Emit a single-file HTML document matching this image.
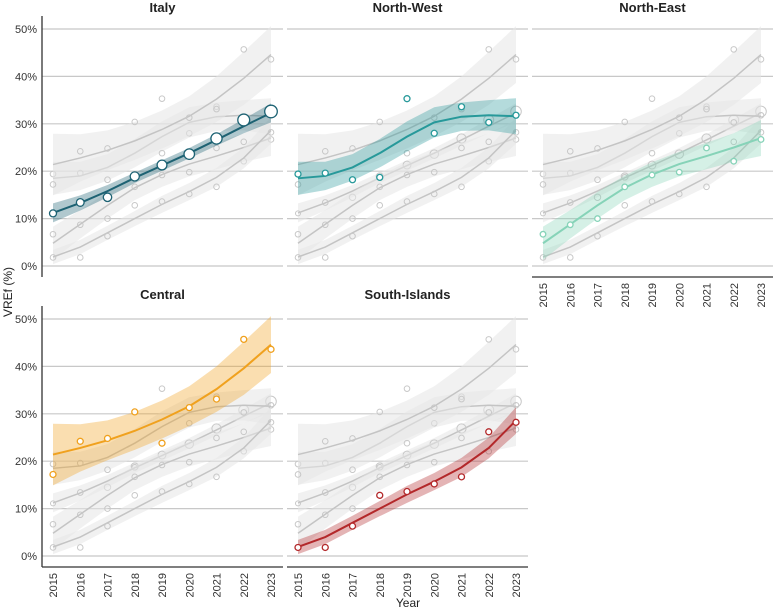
<!DOCTYPE html>
<html><head><meta charset="utf-8"><style>
body{margin:0;background:#fff;font-family:"Liberation Sans",sans-serif}
svg text{font-family:"Liberation Sans",sans-serif}
</style></head><body>
<svg id="c" width="774" height="609" xmlns="http://www.w3.org/2000/svg"></svg>
<script>
const years=[2015,2016,2017,2018,2019,2020,2021,2022,2023];
const regions=["Italy","North-West","North-East","Central","South-Islands"];
const colors=["#1d6273","#27999a","#86d3b8","#f0a11e","#b3282a"];
const ptItaly=[11.1,13.4,14.5,18.9,21.3,23.6,26.9,30.8,32.6];
const ptNW=[19.4,19.6,18.2,18.7,35.3,28.0,33.6,30.3,31.8];
const ptNE=[6.7,8.7,10.0,16.7,19.2,19.8,24.9,22.1,26.7];
const ptCE=[17.2,24.2,24.8,30.4,23.8,31.3,33.1,45.7,43.6];
const ptSI=[1.8,1.8,6.3,12.8,13.6,15.2,16.7,26.2,28.2];
const fitItaly=[11.2,13.3,15.8,18.6,21.2,23.8,26.6,29.5,32.3];
const fitNW=[18.5,19.0,20.8,23.8,27.3,30.3,31.5,31.8,31.6];
const fitNE=[4.8,8.8,12.8,16.5,19.3,21.5,23.2,25.0,27.0];
const fitCE=[21.4,22.8,24.4,26.4,28.8,31.6,35.2,39.6,44.6];
const fitSI=[1.9,4.0,7.0,10.0,13.0,15.7,18.7,22.8,28.6];
const bandItaly=[2.0,1.6,1.3,1.1,1.1,1.1,1.2,1.5,2.0];
const bandNW=[3.5,3.0,2.8,3.0,3.2,3.2,3.0,3.2,3.8];
const bandNE=[3.5,3.0,2.8,2.6,2.6,2.6,2.8,3.0,3.8];
const bandCE=[6.5,5.0,4.2,4.0,4.0,4.2,4.8,5.6,6.0];
const bandSI=[1.5,1.5,1.5,1.6,1.8,1.8,2.0,2.2,2.8];
const pts=[ptItaly,ptNW,ptNE,ptCE,ptSI],fits=[fitItaly,fitNW,fitNE,fitCE,fitSI],bands=[bandItaly,bandNW,bandNE,bandCE,bandSI];
const ticks=[0,10,20,30,40,50];
const NS="http://www.w3.org/2000/svg",svg=document.getElementById('c');
function mk(t,a,p){const e=document.createElementNS(NS,t);for(const k in a)e.setAttribute(k,a[k]);(p||svg).appendChild(e);return e;}
const colX=[42,287,532],rowY0=[266,556],titleY=[12,299],W=241,PX=4.74;
const layout=[[0,0],[1,0],[2,0],[0,1],[1,1]];
layout.forEach(([c,r],i)=>{
  const g=mk('g',{});
  
  
  const ax=colX[c],y0=rowY0[r];
  const X=j=>ax+11+(j)*27.25, Y=v=>y0-v*PX;
  ticks.forEach(t=>{const l=mk('line',{x1:ax,x2:ax+W,y1:Y(t),y2:Y(t),stroke:'#c8c8c8','stroke-width':1.2},g);
    });
  const tt=mk('text',{x:ax+W/2,y:titleY[r],'text-anchor':'middle','font-size':13,'font-weight':'bold',fill:'#222'},g);
  tt.textContent=regions[i];
  const bandPath=k=>{let d='';fits[k].forEach((v,j)=>d+=(j?'L':'M')+X(j)+','+Y(v+bands[k][j]));
    for(let j=8;j>=0;j--)d+='L'+X(j)+','+Y(fits[k][j]-bands[k][j]);return d+'Z';};
  const linePath=k=>fits[k].map((v,j)=>(j?'L':'M')+X(j)+','+Y(v)).join('');
  regions.forEach((_,k)=>{if(k===i)return;
    const b=mk('path',{d:bandPath(k),fill:'#e6e6e6','fill-opacity':0.55},g);
    const l=mk('path',{d:linePath(k),fill:'none',stroke:'#c4c4c4','stroke-width':1.5},g);
    pts[k].forEach((v,j)=>{const p=mk('circle',{cx:X(j),cy:Y(v),r:k===0?2.5+j*0.35:2.8,fill:'none',stroke:'#c8c8c8','stroke-width':1},g);
      });
  });
  const b=mk('path',{d:bandPath(i),fill:colors[i],'fill-opacity':0.35},g);
  const l=mk('path',{d:linePath(i),fill:'none',stroke:colors[i],'stroke-width':2},g);
  pts[i].forEach((v,j)=>{const p=mk('circle',{cx:X(j),cy:Y(v),r:i===0?3.5+j*0.35:(i===2?2.8:3),fill:'#fff',stroke:colors[i],'stroke-width':1.3},g);
    });
  if(c===0){
    const a=mk('line',{x1:ax,x2:ax,y1:y0-250,y2:y0+11,stroke:'#333','stroke-width':1.3},g);
    ticks.forEach(t=>{const tx=mk('text',{x:ax-5,y:Y(t)+4,'text-anchor':'end','font-size':11,fill:'#333'},g);tx.textContent=t+'%';
      });
  }
  if(r===1||c===2){
    const a=mk('line',{x1:ax,x2:ax+W,y1:y0+11,y2:y0+11,stroke:'#333','stroke-width':1.3},g);
    years.forEach((yr,j)=>{const tx=mk('text',{x:0,y:0,'text-anchor':'end','font-size':11,fill:'#333',transform:`translate(${X(j)+4},${y0+17}) rotate(-90)`},g);
      tx.textContent=yr;});
  }
});
const yl=mk('text',{x:0,y:0,'text-anchor':'middle','font-size':12,fill:'#222',transform:'translate(12,292) rotate(-90)'});
yl.textContent='VREf (%)';
const xl=mk('text',{x:408,y:607,'text-anchor':'middle','font-size':12,fill:'#222'});
xl.textContent='Year';
</script>
</body></html>
